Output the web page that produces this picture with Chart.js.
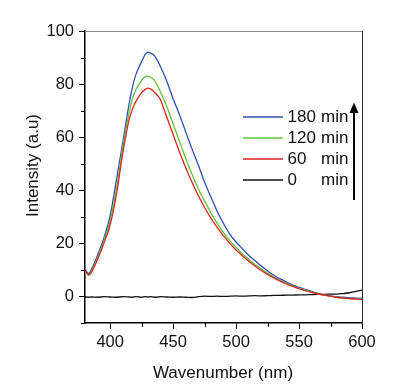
<!DOCTYPE html>
<html>
<head>
<meta charset="utf-8">
<script src="https://cdn.jsdelivr.net/npm/chart.js@4"></script>
<style>
html,body{margin:0;padding:0;background:#fff;}
canvas{display:block;}
</style>
</head>
<body>
<canvas id="c" width="411" height="386"></canvas>
<script>
// ---- data ----
const wavelengths = [380,381.5,383,385,390,395,400,405,410,415,418,420,423,425,428,430,432,435,438,440,445,450,455,460,465,470,475,480,485,490,495,500,505,510,515,520,525,530,535,540,545,550,555,560,565,570,575,580,585,590,595,600];
const int180 = [10.2,9.2,8.6,10.0,15.5,22.0,30.5,44.0,58.0,72.5,79.5,83.0,86.5,88.5,91.3,92.0,91.7,90.8,88.5,86.5,81.0,74.5,68.5,62.0,55.5,49.5,43.0,37.5,32.0,27.5,23.5,20.5,18.0,15.5,13.5,11.5,9.6,8.0,6.6,5.4,4.3,3.4,2.6,1.9,1.2,0.6,0.2,-0.1,-0.3,-0.5,-0.6,-0.7];
const int120 = [9.4,8.6,7.9,9.2,14.5,20.8,28.5,40.5,56.0,69.0,75.0,77.5,80.0,81.5,82.8,83.0,82.6,81.5,79.0,77.0,71.5,65.0,58.5,52.0,46.0,40.5,36.0,31.5,27.5,24.0,21.0,18.5,16.0,14.0,12.0,10.3,8.7,7.3,6.0,4.9,3.9,3.0,2.3,1.6,1.0,0.5,0.1,-0.3,-0.6,-0.8,-0.9,-1.0];
const int60 = [9.6,8.8,8.2,9.0,14.0,20.0,27.0,38.5,54.0,66.5,71.0,73.0,75.5,76.8,78.0,78.5,78.2,77.0,75.5,74.0,67.5,61.0,54.5,48.5,43.0,38.0,33.5,29.5,26.0,22.8,20.0,17.5,15.3,13.3,11.5,9.8,8.3,7.0,5.8,4.7,3.8,2.9,2.2,1.5,1.0,0.5,0.1,-0.3,-0.6,-0.8,-1.0,-1.1];
const int0 = [-0.3,-0.2,-0.3,-0.2,-0.3,-0.1,-0.2,-0.3,-0.1,-0.2,-0.3,-0.1,-0.2,-0.3,-0.1,-0.2,-0.1,-0.3,-0.2,-0.1,-0.2,-0.3,-0.2,-0.3,-0.4,-0.1,0.1,0.0,0.1,0.0,0.1,0.2,0.1,0.2,0.3,0.2,0.3,0.4,0.4,0.5,0.5,0.6,0.6,0.7,0.8,0.8,0.9,0.9,1.1,1.4,1.9,2.4];
const legendNumbers = ['180','120','60','0'];
const legendUnit = 'min';
const xTicks = [400,450,500,550,600];
const yTicks = [0,20,40,60,80,100];
const xMinorTicks = [425,475,525,575];
const yMinorTicks = [-10,10,30,50,70,90];
const xTitle = 'Wavenumber (nm)';
const yTitle = 'Intensity (a.u)';

const FONT = '"Liberation Sans", Arial, sans-serif';
const colors = {c180:'#2d4fb4', c120:'#62c23a', c60:'#e4231c', c0:'#111111'};

function pts(arr){ return wavelengths.map((x,i)=>({x:x, y:arr[i]})); }

const extras = {
  id:'extras',
  afterDraw(chart){
    const ctx = chart.ctx, a = chart.chartArea;
    const xs = chart.scales.x, ys = chart.scales.y;
    ctx.save();
    // top and right frame
    ctx.lineWidth = 1;
    ctx.strokeStyle = '#888';
    ctx.beginPath(); ctx.moveTo(a.left, a.top+0.5); ctx.lineTo(a.right, a.top+0.5); ctx.stroke();
    ctx.strokeStyle = '#333';
    ctx.beginPath(); ctx.moveTo(a.right+0.5, a.top); ctx.lineTo(a.right+0.5, a.bottom); ctx.stroke();
    // minor ticks
    ctx.strokeStyle = '#000';
    ctx.beginPath();
    xMinorTicks.forEach(v=>{ const px = Math.round(xs.getPixelForValue(v))+0.5; ctx.moveTo(px, a.bottom); ctx.lineTo(px, a.bottom+4); });
    yMinorTicks.forEach(v=>{ const py = Math.round(ys.getPixelForValue(v))+0.5; ctx.moveTo(a.left, py); ctx.lineTo(a.left-4, py); });
    ctx.stroke();
    // axis titles
    ctx.fillStyle = '#111';
    ctx.font = '17px ' + FONT;
    ctx.textAlign = 'center';
    ctx.textBaseline = 'alphabetic';
    ctx.fillText(xTitle, (a.left+a.right)/2 - 0.5, 377.5);
    ctx.save();
    ctx.translate(37.5, 165.5);
    ctx.rotate(-Math.PI/2);
    ctx.fillText(yTitle, 0, 0);
    ctx.restore();
    // legend
    const sets = chart.data.datasets;
    const rowY = [116.5, 137.5, 158.5, 179.5];
    ctx.font = '17px ' + FONT;
    ctx.textBaseline = 'middle';
    ctx.textAlign = 'left';
    sets.slice().sort((p,q)=>p.legendIndex-q.legendIndex).forEach((ds,i)=>{
      const y = rowY[i];
      ctx.strokeStyle = ds.borderColor;
      ctx.lineWidth = 1.5;
      ctx.beginPath(); ctx.moveTo(243, y+0.5); ctx.lineTo(283, y+0.5); ctx.stroke();
      ctx.fillStyle = '#111';
      ctx.fillText(legendNumbers[i], 287.5, y+1);
      ctx.fillText(legendUnit, 321, y+1);
    });
    // arrow
    ctx.strokeStyle = '#000';
    ctx.fillStyle = '#000';
    ctx.lineWidth = 2;
    ctx.beginPath(); ctx.moveTo(354, 200); ctx.lineTo(354, 110); ctx.stroke();
    ctx.beginPath(); ctx.moveTo(354, 102.5); ctx.lineTo(349.5, 113); ctx.lineTo(358.5, 113); ctx.closePath(); ctx.fill();
    ctx.restore();
  }
};

new Chart(document.getElementById('c'), {
  type:'line',
  data:{
    datasets:[
      {label:'60 min', legendIndex:2, data:pts(int60), borderColor:colors.c60},
      {label:'120 min', legendIndex:1, data:pts(int120), borderColor:colors.c120},
      {label:'180 min', legendIndex:0, data:pts(int180), borderColor:colors.c180},
      {label:'0 min', legendIndex:3, data:pts(int0), borderColor:colors.c0}
    ]
  },
  options:{
    responsive:false,
    animation:false,
    devicePixelRatio:1,
    layout:{padding:{left:0, right:49, top:31, bottom:0}},
    elements:{
      line:{borderWidth:1.3, fill:false, cubicInterpolationMode:'monotone'},
      point:{radius:0, hoverRadius:0}
    },
    plugins:{legend:{display:false}, tooltip:{enabled:false}},
    events:[],
    scales:{
      x:{
        type:'linear', min:380, max:600,
        afterBuildTicks:s=>{ s.ticks = xTicks.map(v=>({value:v})); },
        afterFit:s=>{ s.height = 63; },
        ticks:{font:{size:16.5, family:FONT}, color:'#111', padding:4, maxRotation:0, autoSkip:false},
        grid:{drawOnChartArea:false, drawTicks:true, tickLength:6, tickColor:'#000', tickWidth:1},
        border:{color:'#000', width:1.5}
      },
      y:{
        type:'linear', min:-10, max:100,
        afterBuildTicks:s=>{ s.ticks = yTicks.map(v=>({value:v})); },
        afterFit:s=>{ s.width = 85; },
        ticks:{font:{size:16.5, family:FONT}, color:'#111', padding:5, autoSkip:false},
        grid:{drawOnChartArea:false, drawTicks:true, tickLength:6, tickColor:'#000', tickWidth:1},
        border:{color:'#000', width:1.5}
      }
    }
  },
  plugins:[extras]
});
</script>
</body>
</html>
